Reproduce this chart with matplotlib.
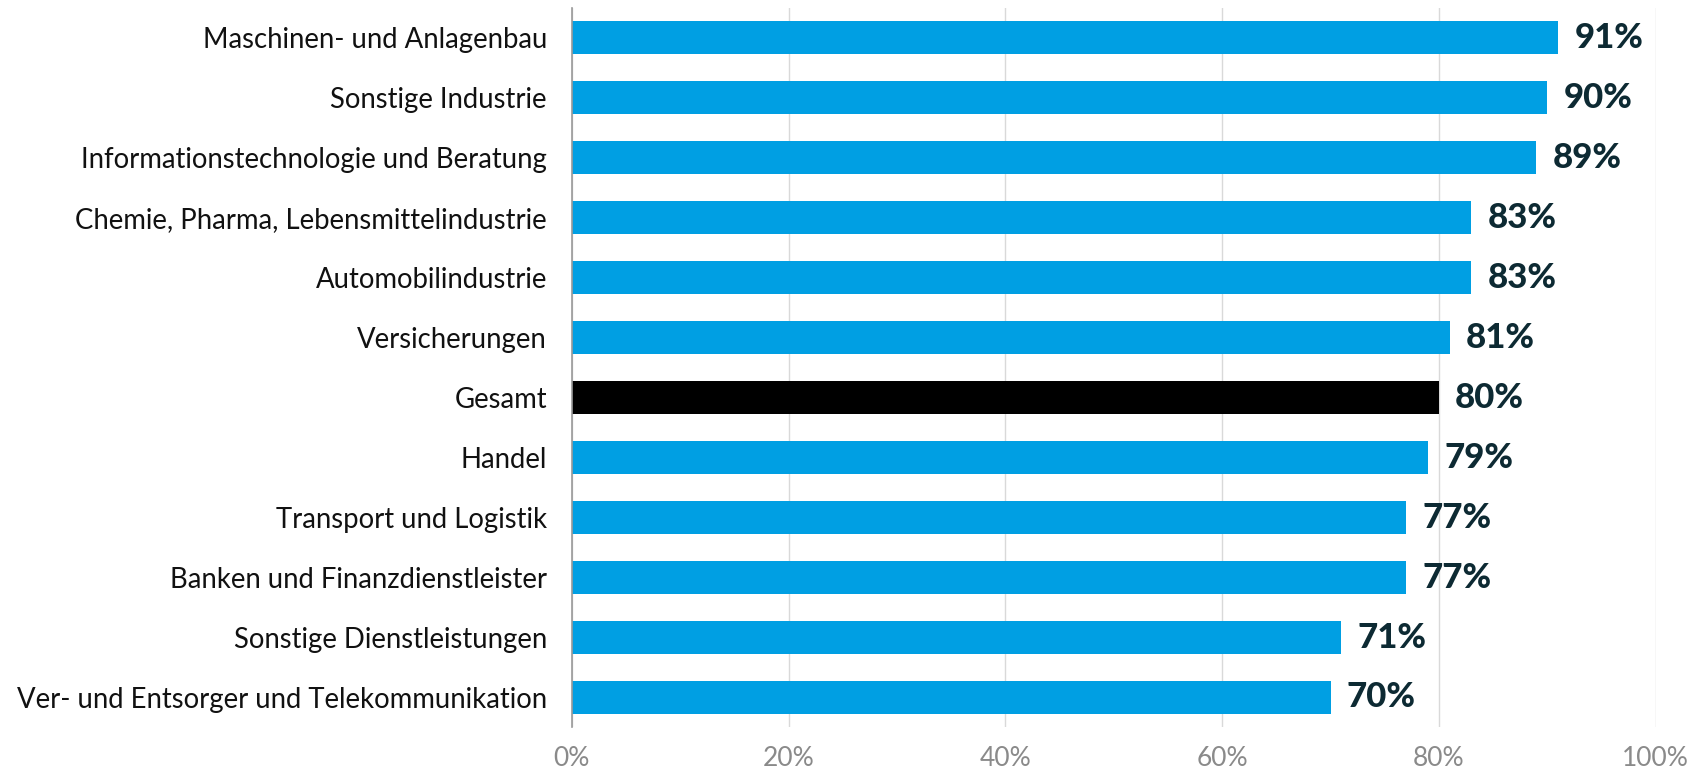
import matplotlib.pyplot as plt
import numpy as np

# Share of companies per sector, percent
sectors = [
    "Maschinen- und Anlagenbau",
    "Sonstige Industrie",
    "Informationstechnologie und Beratung",
    "Chemie, Pharma, Lebensmittelindustrie",
    "Automobilindustrie",
    "Versicherungen",
    "Gesamt",
    "Handel",
    "Transport und Logistik",
    "Banken und Finanzdienstleister",
    "Sonstige Dienstleistungen",
    "Ver- und Entsorger und Telekommunikation",
]
values = [91, 90, 89, 83, 83, 81, 80, 79, 77, 77, 71, 70]
highlight = "Gesamt"
x_ticks = [0, 20, 40, 60, 80, 100]

BLUE = "#009fe3"
DARK = "#0d2a33"

plt.rcParams["font.family"] = ["Lato", "DejaVu Sans"]

fig = plt.figure(figsize=(16.92, 7.69), dpi=100)
ax = fig.add_axes([0.338, 0.054, 0.6405, 0.936])

y = np.arange(len(sectors))
colors = ["black" if s == highlight else BLUE for s in sectors]
ax.barh(y, values, height=0.55, color=colors, zorder=3)

for yi, v in zip(y, values):
    ax.text(v + 1.5, yi, f"{v}%", va="center", ha="left",
            fontsize=25, fontweight="black", color=DARK)

ax.set_xlim(0, 100)
ax.set_ylim(len(sectors) - 0.5, -0.5)
ax.set_yticks(y)
ax.set_yticklabels(sectors, fontsize=19.8, color="#111111")
ax.set_xticks(x_ticks)
ax.set_xticklabels([f"{t}%" for t in x_ticks], fontsize=19, color="#8a8a8a")
ax.tick_params(axis="both", length=0)
ax.tick_params(axis="y", pad=18)
ax.tick_params(axis="x", pad=13)

ax.grid(axis="x", color="#d9d9d9", lw=1, zorder=0)
for side in ("top", "right", "bottom"):
    ax.spines[side].set_visible(False)
ax.spines["left"].set_color("#999999")
ax.spines["left"].set_linewidth(1.2)
ax.spines["left"].set_zorder(4)

fig.savefig("out.png", dpi=100)
